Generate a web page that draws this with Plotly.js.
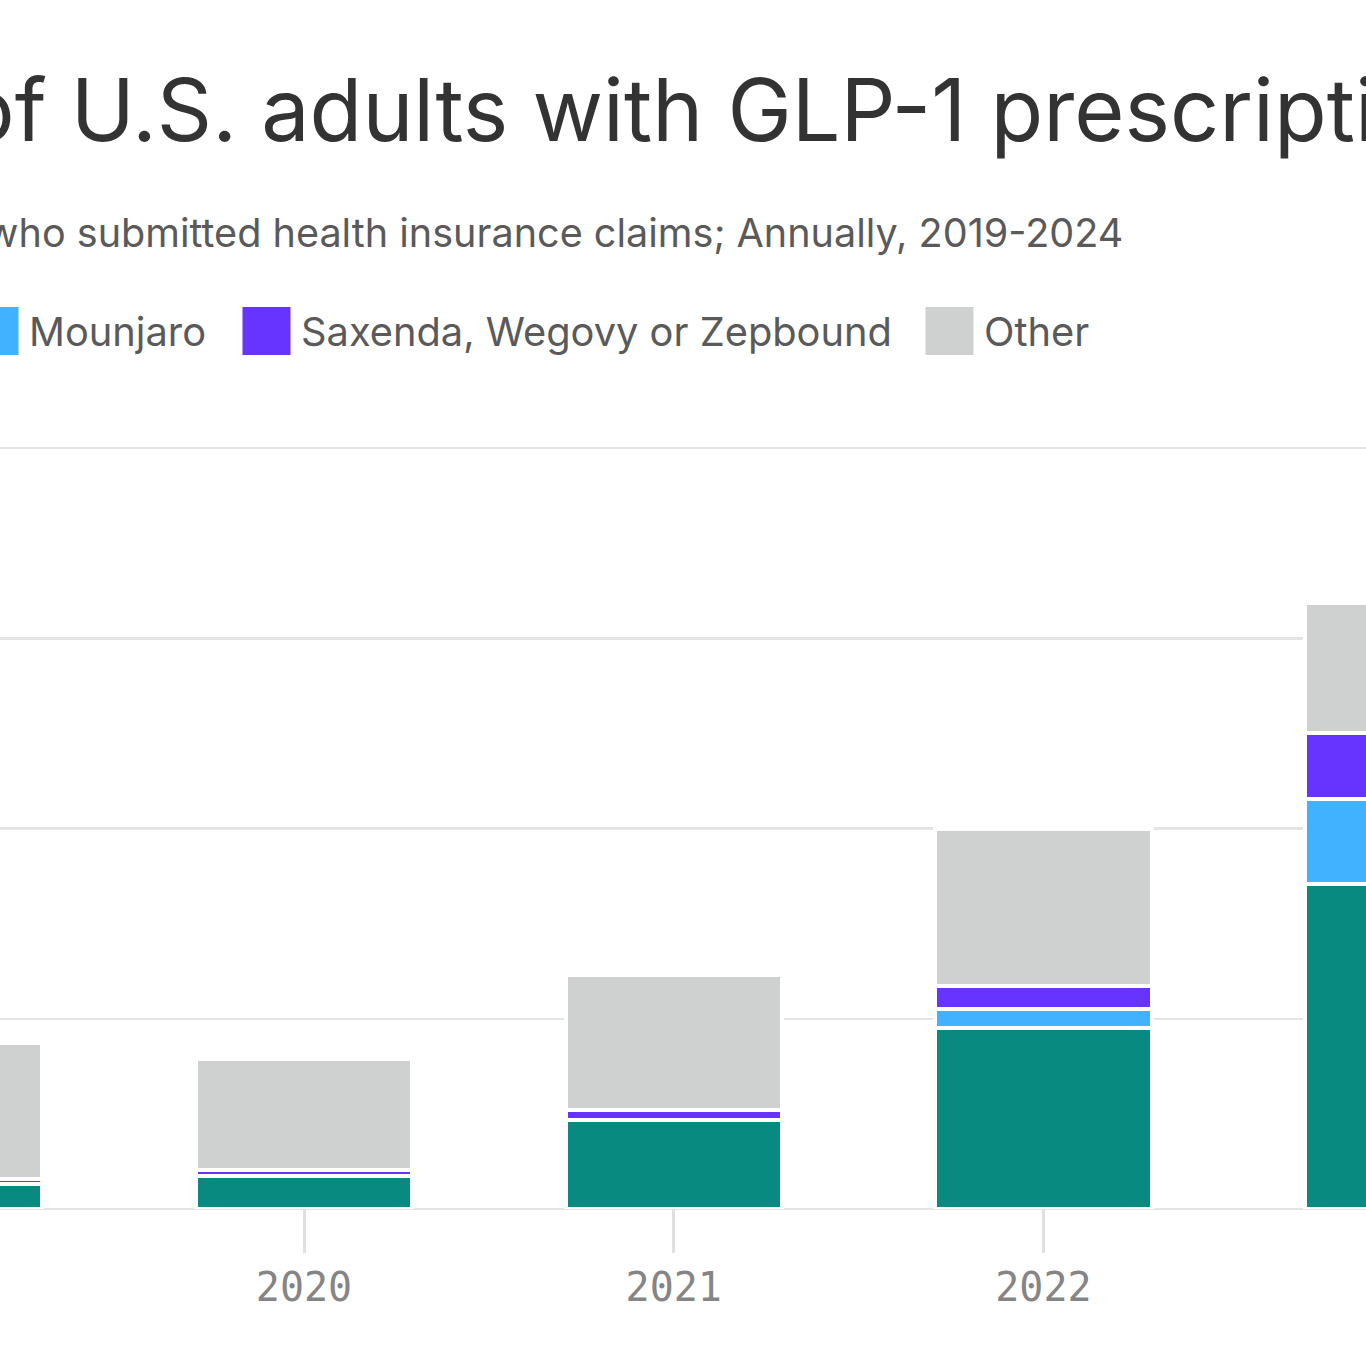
<!DOCTYPE html>
<html><head><meta charset="utf-8">
<script src="https://cdn.plot.ly/plotly-3.0.1.min.js"></script>
<style>html,body{margin:0;padding:0;background:#fff;overflow:hidden;} #chart{width:1366px;height:1366px;}</style>
</head><body><div id="chart"></div>
<script>
// ---- data (share of U.S. adults, %) ----
const years = ['2019', '2020', '2021', '2022', '2023'];
const ozempic = [0.130, 0.175, 0.467, 0.952, 1.706];
const mounjaro = [0, 0, 0, 0.100, 0.447];
const saxendaWegovyZepbound = [0.028, 0.030, 0.056, 0.119, 0.348];
const other = [0.715, 0.583, 0.705, 0.825, 0.685];
const seriesNames = ['Ozempic', 'Mounjaro', 'Saxenda, Wegovy or Zepbound', 'Other'];
const seriesColors = ['#098A80', '#40B2FF', '#6633FF', '#CFD1D0'];
const titleText = 'Share of U.S. adults with GLP-1 prescriptions';
const subtitleText = 'Among adults who submitted health insurance claims; Annually, 2019-2024';

// ---- layout geometry ----
const W = 1366, H = 1366;
const M = {l: 0, r: 0, t: 353, b: 157};
const plotH = H - M.t - M.b;
const px2x = px => (px - M.l) / (W - M.l - M.r);
const px2y = py => (H - M.b - py) / plotH;

const seriesValues = [ozempic, mounjaro, saxendaWegovyZepbound, other];
const traces = seriesValues.map((vals, i) => ({
  type: 'bar',
  name: seriesNames[i],
  x: years,
  y: vals,
  marker: {color: seriesColors[i], line: {color: '#ffffff', width: 4}},
  hoverinfo: 'x+y+name'
}));

// legend (drawn manually: large square swatches)
const legendLeft = [-290, -29.5, 242.5, 925.5];
const legendTop = 307, legendSize = 48, legendTextGap = 8;
const shapes = [], annotations = [];
seriesNames.forEach((name, i) => {
  shapes.push({
    type: 'rect', xref: 'paper', yref: 'paper',
    x0: px2x(legendLeft[i]), x1: px2x(legendLeft[i] + legendSize),
    y0: px2y(legendTop + legendSize), y1: px2y(legendTop),
    fillcolor: seriesColors[i], line: {width: 0}
  });
  annotations.push({
    xref: 'paper', yref: 'paper',
    x: px2x(legendLeft[i] + legendSize + legendTextGap), xanchor: 'left',
    y: px2y(legendTop + legendSize / 2), yanchor: 'middle',
    text: name, showarrow: false,
    font: {family: 'Inter, Roboto, sans-serif', size: 39.8, color: '#5a5a5a'}
  });
});
annotations.push({
  xref: 'paper', yref: 'paper',
  x: px2x(1125), xanchor: 'right',
  y: px2y(233), yanchor: 'middle',
  text: subtitleText, showarrow: false,
  font: {family: 'Inter, Roboto, sans-serif', size: 39.6, color: '#5a5a5a'}
});

const layout = {
  width: W, height: H, autosize: false,
  margin: {l: M.l, r: M.r, t: M.t, b: M.b, pad: 0},
  paper_bgcolor: '#ffffff', plot_bgcolor: '#ffffff',
  title: {
    text: titleText,
    font: {family: 'Inter, Roboto, sans-serif', size: 86.2, color: '#333333'},
    xref: 'container', yref: 'container',
    x: 0.449, xanchor: 'center',
    y: 1 - 111 / H, yanchor: 'middle'
  },
  barmode: 'stack',
  bargap: 0.415,
  showlegend: false,
  xaxis: {
    type: 'category',
    range: [0.1777, 3.8726],
    ticks: 'outside', ticklen: 43, tickwidth: 3, tickcolor: '#e0e0e0',
    tickfont: {family: 'DejaVu Sans Mono, monospace', size: 40, color: '#858585'},
    showgrid: false, showline: false, zeroline: false, fixedrange: true
  },
  yaxis: {
    range: [0, 4.5], tick0: 0, dtick: 1,
    showgrid: true, gridcolor: '#e4e4e4', gridwidth: 2.5,
    zeroline: true, zerolinecolor: '#e4e4e4', zerolinewidth: 2.5,
    showticklabels: false, ticks: '', fixedrange: true
  },
  shapes: shapes,
  annotations: annotations
};

Plotly.newPlot('chart', traces, layout, {displayModeBar: false, staticPlot: true});
</script>
</body></html>
